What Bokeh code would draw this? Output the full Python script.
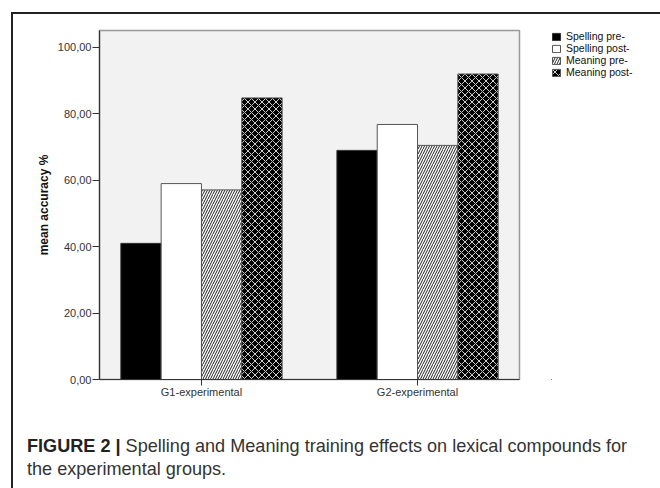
from bokeh.plotting import figure
from bokeh.models import (FactorRange, Range1d, FixedTicker, Legend, LegendItem, Div)
from bokeh.layouts import column, row
from bokeh.transform import dodge
from bokeh.embed import file_html
from bokeh.resources import INLINE

# ---- data ----
groups = ["G1-experimental", "G2-experimental"]
spelling_pre = [41.0, 69.0]
spelling_post = [59.0, 76.8]
meaning_pre = [57.1, 70.5]
meaning_post = [84.8, 92.0]
series_names = ["Spelling pre-", "Spelling post-", "Meaning pre-", "Meaning post-"]
y_ticks = [0, 20, 40, 60, 80, 100]
y_tick_labels = ["0,00", "20,00", "40,00", "60,00", "80,00", "100,00"]
caption_bold = "FIGURE 2 |"
caption_line1 = "Spelling and Meaning training effects on lexical compounds for"
caption_line2 = "the experimental groups."

styles = [
    dict(fill_color="black", line_color="#333333", line_width=1),
    dict(fill_color="white", line_color="#555555", line_width=1),
    dict(fill_color="white", line_color="#555555", line_width=1,
         hatch_pattern="right_diagonal_line", hatch_color="#222222",
         hatch_scale=5, hatch_weight=1),
    dict(fill_color="black", line_color="#555555", line_width=1,
         hatch_pattern="diagonal_cross", hatch_color="#cfcfcf",
         hatch_scale=7, hatch_weight=1.0),
]

H = 414
p = figure(width=508, height=H, output_backend="svg", toolbar_location=None,
           x_range=FactorRange(factors=groups, range_padding=-0.028, factor_padding=0),
           y_range=Range1d(0, 105.1))
p.min_border = 0
p.min_border_left = 86
p.min_border_right = 2
p.min_border_top = 15
p.min_border_bottom = 49

p.background_fill_color = "#f2f2f2"
p.border_fill_color = "white"
p.outline_line_color = "#999999"
p.outline_line_width = 1.5
p.grid.visible = False

data = dict(g=groups, s0=spelling_pre, s1=spelling_post, s2=meaning_pre, s3=meaning_post)
bw = 0.1866
offs = [-1.5 * bw, -0.5 * bw, 0.5 * bw, 1.5 * bw]
for i in range(4):
    p.vbar(x=dodge("g", offs[i], range=p.x_range), top="s%d" % i, width=bw,
           source=data, **styles[i])

# axes
p.yaxis.ticker = FixedTicker(ticks=y_ticks)
p.yaxis.major_label_overrides = {t: l for t, l in zip(y_ticks, y_tick_labels)}
p.yaxis.minor_tick_line_color = None
p.yaxis.major_tick_out = 7
p.yaxis.major_tick_in = 0
p.yaxis.major_label_standoff = 1
p.yaxis.axis_label = "mean accuracy %"
p.yaxis.axis_label_text_font = "Liberation Sans"
p.yaxis.axis_label_text_font_style = "bold"
p.yaxis.axis_label_text_font_size = "12px"
p.yaxis.axis_label_text_color = "#111111"
p.yaxis.axis_label_standoff = 4

for ax in (p.xaxis, p.yaxis):
    ax.axis_line_color = "#333333"
    ax.axis_line_width = 1.2
    ax.major_tick_line_color = "#333333"
    ax.major_label_text_font = "Liberation Sans"
    ax.major_label_text_font_size = "11px"
    ax.major_label_text_color = "#333333"

p.xaxis.major_tick_out = 6
p.xaxis.major_tick_in = 0
p.xaxis.major_label_standoff = 0

# legend figure to the right (its swatches come from off-frame copies of the bar styles)
lf = figure(width=132, height=H, output_backend="svg", toolbar_location=None,
            x_range=Range1d(0, 1), y_range=Range1d(0, 1),
            x_axis_type=None, y_axis_type=None)
lf.min_border = 0
lf.min_border_left = 30
lf.min_border_top = 16
lf.grid.visible = False
lf.outline_line_color = None
lf.background_fill_color = "white"
lf.border_fill_color = "white"
legend_renderers = [lf.vbar(x=[-10], top=[-10], bottom=[-11], width=0.1, **st)
                    for st in styles]
items = [LegendItem(label=n, renderers=[r], index=0) for n, r in zip(series_names, legend_renderers)]
leg = Legend(items=items, location="top_left", padding=0, margin=0, spacing=0,
             glyph_width=10, glyph_height=9, label_height=8, label_standoff=5,
             label_text_font="Liberation Sans", label_text_font_size="10.5px",
             label_text_line_height=0.75,
             label_text_color="#111111", border_line_color=None,
             background_fill_alpha=0)
lf.add_layout(leg, "center")

cap = Div(text=(
    '<div style="margin-left:9px; margin-top:2px; font-family:\'Liberation Sans\', Arial, sans-serif; '
    'font-size:18.1px; line-height:23px; color:#333333; width:630px;">'
    '<b style="color:#222222">' + caption_bold + '</b> ' + caption_line1 +
    '<br>' + caption_line2 + '</div>'), width=640, height=56)

layout = column(row(p, lf, spacing=0), cap, spacing=0)
layout.styles = {"margin-left": "11px", "margin-top": "12px",
                 "border-left": "2px solid #222222", "border-top": "2px solid #222222"}

open("out.html", "w").write(file_html(layout, INLINE))
